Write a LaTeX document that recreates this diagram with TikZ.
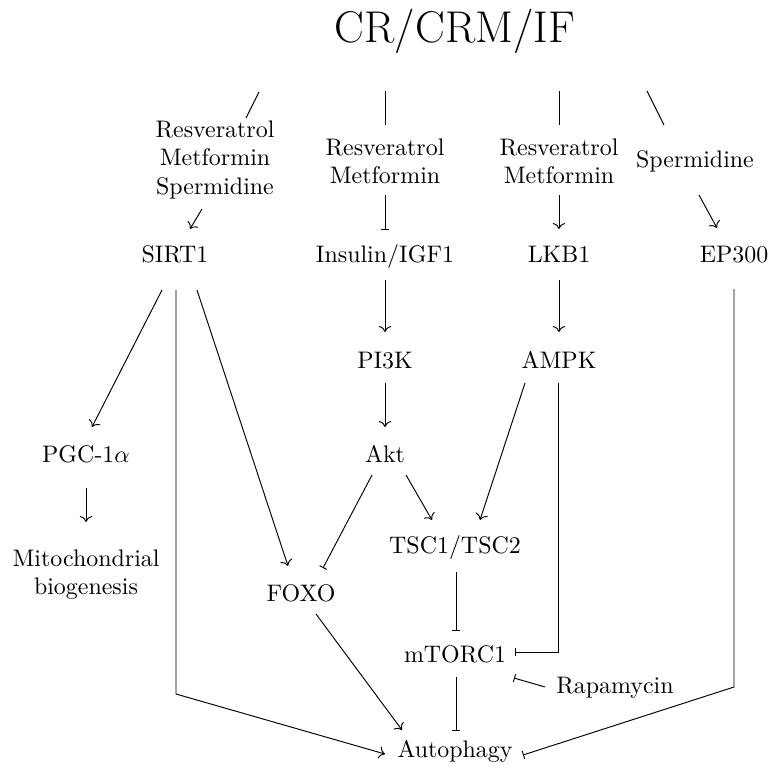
\documentclass[tikz,border=0pt]{standalone}
\usetikzlibrary{arrows.meta}
\begin{document}
\begin{tikzpicture}[x=0.418pt,y=-0.418pt,
  every node/.style={anchor=base,inner sep=0pt},
  conn/.style={line width=0.4pt},
  act/.style={conn,-{Computer Modern Rightarrow}},
  inh/.style={conn,-{Bar[width=3.4pt]}}]
\useasboundingbox (0,0) rectangle (769,767);
\newcommand{\stack}[1]{\begin{tabular}[t]{@{}c@{}}#1\end{tabular}}
% nodes
\node (title) at (455,42) {\fontsize{18.6}{22}\selectfont CR/CRM/IF};
\node (lab1) at (215,137) {\stack{Resveratrol\\Metformin\\Spermidine}};
\node (lab2) at (385,155) {\stack{Resveratrol\\Metformin}};
\node (lab3) at (559,155) {\stack{Resveratrol\\Metformin}};
\node (sperm) at (695,167) {Spermidine};
\node (sirt) at (175,262) {SIRT1};
\node (ins) at (385,262) {Insulin/IGF1};
\node (lkb) at (559,262) {LKB1};
\node (ep) at (734,262) {EP300};
\node (pi3k) at (385,368) {PI3K};
\node (ampk) at (559,368) {AMPK};
\node (pgc) at (86,462) {PGC-1$\alpha$};
\node (akt) at (385,462) {Akt};
\node (tsc) at (455,553) {TSC1/TSC2};
\node (mito) at (86,566) {\stack{Mitochondrial\\biogenesis}};
\node (foxo) at (301,601) {FOXO};
\node (mtor) at (455,662) {mTORC1};
\node (rapa) at (615,693) {Rapamycin};
\node (auto) at (455,757) {Autophagy};
% connectors from the title
\draw[conn] ([shift={(-196,50)}]title.base) -- ([shift={(31,-19)}]lab1.base);
\draw[conn] ([shift={(-70,49)}]title.base) -- ([shift={(0,-30)}]lab2.base);
\draw[conn] ([shift={(104,49)}]title.base) -- ([shift={(0,-30)}]lab3.base);
\draw[conn] ([shift={(192,49)}]title.base) -- ([shift={(-31,-42)}]sperm.base);
% labels to targets
\draw[act] ([shift={(-13,72)}]lab1.base) -- ([shift={(15,-33)}]sirt.base);
\draw[inh] ([shift={(0,40)}]lab2.base) -- ([shift={(0,-32)}]ins.base);
\draw[act] ([shift={(0,40)}]lab3.base) -- ([shift={(0,-33)}]lkb.base);
\draw[act] ([shift={(4,28)}]sperm.base) -- ([shift={(-17,-34)}]ep.base);
% SIRT1
\draw[act] ([shift={(-13,28)}]sirt.base) -- ([shift={(6,-35)}]pgc.base);
\draw[act] ([shift={(1,28)}]sirt.base) -- ++(0,404) -- ([shift={(-70,-3)}]auto.base);
\draw[act] ([shift={(22,28)}]sirt.base) -- ([shift={(-13,-35)}]foxo.base);
% insulin pathway
\draw[act] ([shift={(0,18)}]ins.base) -- ([shift={(0,-36)}]pi3k.base);
\draw[act] ([shift={(0,15)}]pi3k.base) -- ([shift={(0,-35)}]akt.base);
\draw[act] ([shift={(0,18)}]lkb.base) -- ([shift={(0,-36)}]ampk.base);
\draw[inh] ([shift={(-13,13)}]akt.base) -- ([shift={(22,-33)}]foxo.base);
\draw[act] ([shift={(21,13)}]akt.base) -- ([shift={(-23,-33)}]tsc.base);
\draw[act] ([shift={(-34,15)}]ampk.base) -- ([shift={(25,-33)}]tsc.base);
\draw[inh] ([shift={(-1,15)}]ampk.base) -- ++(0,269) -- ([shift={(60,-10)}]mtor.base);
\draw[act] ([shift={(0,26)}]pgc.base) -- ([shift={(0,-44)}]mito.base);
\draw[inh] ([shift={(1,19)}]tsc.base) -- ([shift={(1,-31)}]mtor.base);
\draw[act] ([shift={(15,13)}]foxo.base) -- ([shift={(-53,-27)}]auto.base);
\draw[inh] ([shift={(1,15)}]mtor.base) -- ([shift={(1,-26)}]auto.base);
\draw[inh] ([shift={(-70,-6)}]rapa.base) -- ([shift={(59,16)}]mtor.base);
\draw[inh] ([shift={(0,27)}]ep.base) -- ++(0,398) -- ([shift={(68,-2)}]auto.base);
\end{tikzpicture}
\end{document}
